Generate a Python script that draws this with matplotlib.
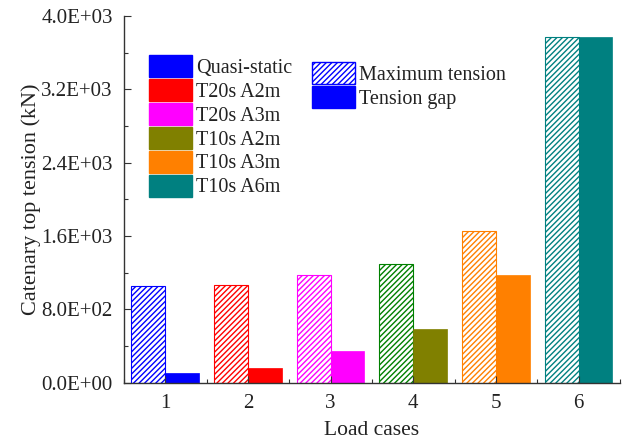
import matplotlib
matplotlib.use("Agg")
import matplotlib.pyplot as plt
from matplotlib.patches import Patch
from matplotlib.ticker import FormatStrFormatter, MultipleLocator
import numpy as np

# data
cases = [1, 2, 3, 4, 5, 6]
case_names = ["Quasi-static", "T20s A2m", "T20s A3m", "T10s A2m", "T10s A3m", "T10s A6m"]
max_tension = [1050, 1070, 1170, 1300, 1660, 3770]
tension_gap = [110, 165, 350, 590, 1170, 3770]

gap_colors = ["#0000ff", "#ff0000", "#ff00ff", "#808000", "#ff8000", "#008080"]
hatch_colors = ["#0000ff", "#ff0000", "#ff00ff", "#008000", "#ff8000", "#008080"]

plt.rcParams["font.family"] = ["Liberation Serif", "DejaVu Serif"]
plt.rcParams["hatch.linewidth"] = 1.0

fig = plt.figure(figsize=(6.23, 4.41), dpi=100)
ax = fig.add_axes([0.199, 0.132, 0.796, 0.832])

x = np.array(cases, dtype=float)
w = 0.41
for i in range(len(cases)):
    ax.bar(x[i] - w / 2, max_tension[i], width=w, facecolor="white",
           edgecolor=hatch_colors[i], hatch="//////", linewidth=0.8)
    ax.bar(x[i] + w / 2, tension_gap[i], width=w, color=gap_colors[i],
           edgecolor=gap_colors[i], linewidth=0.5)

ax.set_xlim(0.5, 6.5)
ax.set_ylim(0, 4000)
ax.set_xticks(cases)
ax.xaxis.set_minor_locator(MultipleLocator(0.5))
ax.yaxis.set_major_locator(MultipleLocator(800))
ax.yaxis.set_minor_locator(MultipleLocator(400))
ax.yaxis.set_major_formatter(FormatStrFormatter("%.1E"))

for s in ["top", "right"]:
    ax.spines[s].set_visible(False)
for s in ["left", "bottom"]:
    ax.spines[s].set_color("#333333")
    ax.spines[s].set_linewidth(1.0)

ax.tick_params(which="major", direction="in", length=5, width=0.8,
               labelsize=15, color="#333333", labelcolor="#222222")
ax.tick_params(axis="y", which="major", pad=8)
ax.tick_params(axis="x", which="major", pad=8)
ax.tick_params(which="minor", direction="in", length=3, width=0.8, color="#333333")

ax.set_xlabel("Load cases", fontsize=15.5, labelpad=6, color="#222222")
ax.set_ylabel("Catenary top tension (kN)", fontsize=16, labelpad=0, color="#222222")

leg_kw = dict(frameon=False, fontsize=14.5, handlelength=2.15, handleheight=1.3,
              labelspacing=0.06, handletextpad=0.2, borderpad=0, borderaxespad=0,
              loc="upper left", bbox_transform=fig.transFigure)

h1 = [Patch(facecolor=c, edgecolor=c) for c in gap_colors]
leg1 = ax.legend(h1, case_names, bbox_to_anchor=(149 / 623, 1 - 55 / 441), **leg_kw)
for t in leg1.get_texts():
    t.set_color("#222222")
ax.add_artist(leg1)

h2 = [Patch(facecolor="white", edgecolor="#0000ff", hatch="//////"),
      Patch(facecolor="#0000ff", edgecolor="#0000ff")]
leg2 = ax.legend(h2, ["Maximum tension", "Tension gap"],
                 bbox_to_anchor=(312 / 623, 1 - 62 / 441), **leg_kw)
for t in leg2.get_texts():
    t.set_color("#222222")

fig.savefig("out.png", dpi=100)
